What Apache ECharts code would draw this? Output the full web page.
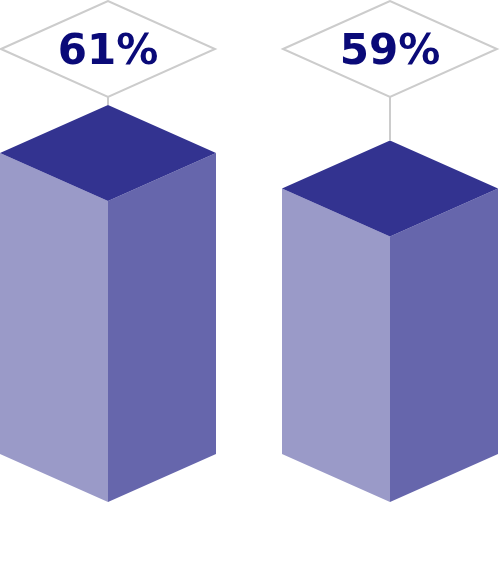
<!DOCTYPE html>
<html><head><meta charset="utf-8">
<script src="https://cdn.jsdelivr.net/npm/echarts@6/dist/echarts.min.js"></script>
<style>html,body{margin:0;padding:0;background:#fff}#c{width:500px;height:570px}</style>
</head><body><div id="c"></div>
<script>
const categories = ['A', 'B'];
const values = [61, 59];
const labels = ['61%', '59%'];

const chart = echarts.init(document.getElementById('c'), null, {renderer: 'canvas'});
const HALF_W = 108, DEPTH = 48;
const AXIS_MIN = 44;

chart.setOption({
  animation: false,
  grid: {left: 108, right: 110, top: 201, bottom: 68},
  xAxis: {type: 'category', data: categories, boundaryGap: false, show: false},
  yAxis: {type: 'value', min: AXIS_MIN, max: 61, show: false},
  series: [{
    type: 'custom',
    data: values.map((v, i) => [i, v]),
    renderItem: function (params, api) {
      const i = api.value(0);
      const top = api.coord([i, api.value(1)]);
      const base = api.coord([i, AXIS_MIN]);
      const cx = top[0], yt = top[1], yb = base[1];
      const w = HALF_W, d = DEPTH;
      return {
        type: 'group',
        children: [
          {type: 'polygon', shape: {points: [[cx - w, yt - d], [cx, yt], [cx, yb], [cx - w, yb - d]]},
           style: {fill: '#9a9ac8'}},
          {type: 'polygon', shape: {points: [[cx, yt], [cx + w, yt - d], [cx + w, yb - d], [cx, yb]]},
           style: {fill: '#6666ac'}},
          {type: 'polygon', shape: {points: [[cx - w, yt - d], [cx, yt - 2 * d], [cx + w, yt - d], [cx, yt]]},
           style: {fill: '#333390'}},
          {type: 'line', shape: {x1: cx, y1: 97, x2: cx, y2: yt - 2 * d},
           style: {stroke: '#cccccc', lineWidth: 2}},
          {type: 'polygon', shape: {points: [[cx - 107, 49], [cx, 1], [cx + 107, 49], [cx, 97]]},
           style: {fill: '#ffffff', stroke: '#cccccc', lineWidth: 2}},
          {type: 'text', x: cx, y: 53,
           style: {text: labels[i], fill: '#0a0a78', font: 'bold 42px "DejaVu Sans"', align: 'center', verticalAlign: 'middle'}}
        ]
      };
    }
  }]
});
</script></body></html>
